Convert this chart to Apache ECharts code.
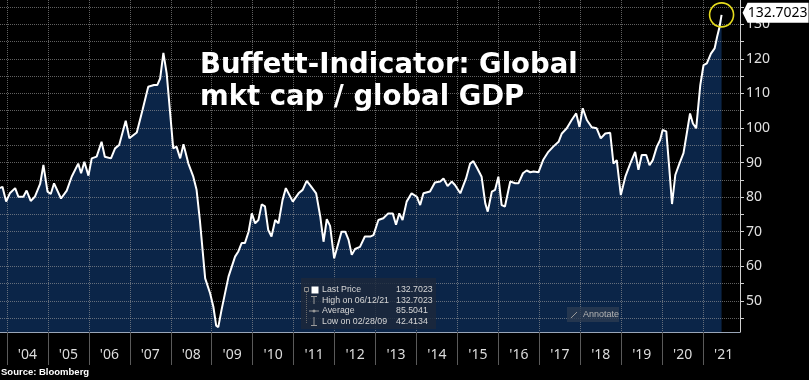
<!DOCTYPE html>
<html>
<head>
<meta charset="utf-8">
<script src="https://cdn.jsdelivr.net/npm/echarts@6/dist/echarts.min.js"></script>
<style>html,body{margin:0;padding:0;background:#000;}#c{width:809px;height:380px;}</style>
</head>
<body>
<div id="c"></div>
<script>
// Time in decimal years, values = global mkt cap / global GDP (%)
const dates = [
2003.83,2003.89,2003.98,2004.07,2004.20,2004.28,2004.40,2004.48,2004.58,2004.68,2004.81,2004.89,2004.99,
2005.07,2005.15,2005.32,2005.46,2005.58,2005.74,2005.81,2005.89,2005.99,
2006.07,2006.19,2006.31,2006.39,2006.54,2006.64,2006.74,2006.90,2006.99,
2007.17,2007.31,2007.45,2007.59,2007.67,2007.74,2007.82,2007.90,
2008.06,2008.14,2008.23,2008.31,2008.43,2008.55,2008.63,2008.71,2008.84,2008.96,
2009.04,2009.11,2009.16,2009.24,2009.41,2009.45,2009.57,2009.65,2009.73,2009.81,2009.90,2009.98,
2010.06,2010.14,2010.22,2010.30,2010.38,2010.46,2010.55,2010.63,2010.73,2010.81,2010.98,
2011.12,2011.22,2011.32,2011.42,2011.55,2011.65,2011.73,2011.81,2011.89,2011.99,
2012.07,2012.17,2012.26,2012.34,2012.42,2012.50,2012.62,2012.74,2012.87,2012.95,
2013.07,2013.19,2013.31,2013.42,2013.50,2013.58,2013.66,2013.76,2013.88,
2014.01,2014.09,2014.17,2014.33,2014.45,2014.58,2014.66,2014.76,2014.86,2014.94,
2015.07,2015.21,2015.31,2015.39,2015.49,2015.59,2015.68,2015.74,2015.84,2015.92,
2016.00,2016.08,2016.16,2016.29,2016.41,2016.49,2016.60,2016.69,2016.78,2016.86,2016.98,
2017.10,2017.22,2017.34,2017.47,2017.55,2017.67,2017.79,2017.90,2017.98,
2018.06,2018.16,2018.28,2018.40,2018.50,2018.61,2018.73,2018.81,2018.89,2018.99,
2019.10,2019.22,2019.34,2019.42,2019.50,2019.61,2019.69,2019.77,2019.87,2019.95,
2020.01,2020.10,2020.17,2020.24,2020.32,2020.42,2020.52,2020.60,2020.68,2020.75,2020.83,2020.93,
2021.01,2021.09,2021.19,2021.28,2021.34,2021.40,2021.45
];
const values = [
82.6,83.0,78.7,81.1,82.6,80.1,80.1,81.9,78.9,80.1,83.8,89.3,81.6,
80.9,84.0,79.6,81.9,85.9,89.7,86.9,90.2,86.2,
91.2,91.7,96.0,91.7,91.2,94.1,95.1,102.1,97.0,
98.7,105.2,111.9,112.4,112.4,114.3,121.7,115.8,
94.1,94.6,91.2,95.3,89.7,85.9,82.1,73.4,56.5,52.2,
48.3,42.8,42.41,47.4,57.0,57.5,62.8,64.3,66.7,66.7,70.0,75.3,
72.4,73.4,77.9,77.3,70.5,68.6,73.4,72.4,79.2,82.6,78.7,
81.1,82.1,84.7,83.2,81.1,74.4,67.1,73.6,71.7,62.3,
65.7,70.0,70.0,67.7,63.3,65.0,65.6,68.6,68.6,69.0,
73.4,73.9,75.3,75.3,72.0,75.3,73.4,78.7,81.1,
80.1,77.7,81.1,81.6,84.2,84.5,85.4,83.2,84.5,83.5,
81.1,85.4,89.7,90.4,88.2,85.9,78.2,75.8,81.6,82.1,
85.9,77.7,77.3,84.5,84.0,84.0,86.9,87.7,87.2,87.4,87.2,
90.9,93.1,94.6,96.0,98.4,99.9,102.3,104.2,100.3,
105.7,102.3,100.2,99.9,97.0,98.4,98.6,89.7,90.7,80.6,
85.9,89.7,93.1,87.9,92.2,92.2,89.2,90.7,94.6,96.5,
99.4,99.0,88.8,78.0,86.4,89.7,92.7,98.4,104.2,101.3,99.9,112.4,
118.2,118.7,121.5,123.0,126.3,129.2,132.7023
];
const yearTicks = [2004,2005,2006,2007,2008,2009,2010,2011,2012,2013,2014,2015,2016,2017,2018,2019,2020,2021];
const yearLabelPos = yearTicks.map(y => y + 0.5);
const yTicks = [45,50,55,60,65,70,75,80,85,90,95,100,105,110,115,120,125,130,135];
const yLabels = [50,60,70,80,90,100,110,120,130];
const legendRows = [
  ['Last Price', '132.7023'],
  ['High on 06/12/21', '132.7023'],
  ['Average', '85.5041'],
  ['Low on 02/28/09', '42.4134']
];
const titleText = 'Buffett-Indicator: Global\nmkt cap / global GDP';
const sourceText = 'Source: Bloomberg';

const data = dates.map((d, i) => [d, values[i]]);
const last = data[data.length - 1];

const gridLine = { show: true, lineStyle: { color: 'rgba(160,160,160,0.6)', type: 'dotted', width: 1 } };

const chart = echarts.init(document.getElementById('c'), null, { renderer: 'canvas' });
const lx = 301, ly = 278;
const rowY = [290, 300.5, 311, 321.5];
const legendGraphics = [
  { type: 'rect', shape: { x: lx, y: ly, width: 135, height: 51 }, style: { fill: 'rgba(28,40,58,0.82)' }, z: 100 },
  { type: 'rect', shape: { x: 304.5, y: 287.5, width: 4, height: 4 }, style: { fill: 'none', stroke: '#8a8a8a', lineWidth: 1 }, z: 101 },
  { type: 'line', shape: { x1: 306.5, y1: 292, x2: 306.5, y2: 324 }, style: { stroke: '#6a6a6a', lineWidth: 1, lineDash: [1, 1] }, z: 101 },
  { type: 'rect', shape: { x: 311.5, y: 286.5, width: 7, height: 7 }, style: { fill: '#ffffff' }, z: 101 },
  { type: 'line', shape: { x1: 311, y1: 296.5, x2: 317, y2: 296.5 }, style: { stroke: '#9a9a9a', lineWidth: 1 }, z: 101 },
  { type: 'line', shape: { x1: 314, y1: 296.5, x2: 314, y2: 304 }, style: { stroke: '#9a9a9a', lineWidth: 1 }, z: 101 },
  { type: 'line', shape: { x1: 309, y1: 311, x2: 319, y2: 311 }, style: { stroke: '#9a9a9a', lineWidth: 1 }, z: 101 },
  { type: 'circle', shape: { cx: 314, cy: 311, r: 1.5 }, style: { fill: '#9a9a9a' }, z: 101 },
  { type: 'line', shape: { x1: 314, y1: 317, x2: 314, y2: 325 }, style: { stroke: '#9a9a9a', lineWidth: 1 }, z: 101 },
  { type: 'line', shape: { x1: 311, y1: 325.5, x2: 317, y2: 325.5 }, style: { stroke: '#9a9a9a', lineWidth: 1 }, z: 101 }
];
legendRows.forEach((r, i) => {
  legendGraphics.push({ type: 'text', x: 322, y: rowY[i], style: { text: r[0], fill: '#d6d6d6', font: '8.8px "Liberation Sans"', verticalAlign: 'middle' }, z: 102 });
  legendGraphics.push({ type: 'text', x: 396, y: rowY[i], style: { text: r[1], fill: '#d6d6d6', font: '8.8px "Liberation Sans"', verticalAlign: 'middle' }, z: 102 });
});
legendGraphics.push(
  { type: 'rect', shape: { x: 567, y: 307, width: 52, height: 15 }, style: { fill: 'rgba(45,60,82,0.75)' }, z: 100 },
  { type: 'line', shape: { x1: 571, y1: 318, x2: 577, y2: 312 }, style: { stroke: '#9a9a9a', lineWidth: 1 }, z: 101 },
  { type: 'text', x: 583, y: 314.5, style: { text: 'Annotate', fill: '#b4b4b4', font: '9px "Liberation Sans"', verticalAlign: 'middle' }, z: 102 }
);

chart.setOption({
  backgroundColor: '#000000',
  animation: false,
  title: [
    { text: titleText, left: 200, top: 49.5, textStyle: { color: '#ffffff', fontFamily: 'DejaVu Sans', fontWeight: 'bold', fontSize: 27.5, lineHeight: 32 }, padding: 0, z: 50 },
    { text: sourceText, left: 1, top: 367, textStyle: { color: '#ffffff', fontFamily: 'Liberation Sans', fontWeight: 'bold', fontSize: 9.5, lineHeight: 11 }, padding: 0 }
  ],
  grid: { left: 0, right: 69, top: 0, bottom: 48, containLabel: false },
  xAxis: {
    type: 'value', min: 2003.83, max: 2021.90, z: 2,
    axisLine: { show: true, lineStyle: { color: '#9aa6b8', width: 1 } },
    axisTick: { show: true, customValues: yearTicks, length: 33, lineStyle: { color: '#5a5a5a' } },
    axisLabel: { show: true, customValues: yearLabelPos, formatter: v => "'" + String(Math.floor(v)).slice(2), color: '#dcdcdc', fontSize: 14, fontFamily: 'Noto Sans', margin: 16 },
    splitLine: gridLine
  },
  yAxis: {
    type: 'value', position: 'right', min: 41, max: 137, z: 2,
    axisLine: { show: true, lineStyle: { color: '#cfcfcf', width: 1 } },
    axisTick: { show: true, customValues: yTicks, length: 4, lineStyle: { color: '#cfcfcf' } },
    axisLabel: { show: true, customValues: yLabels, color: '#e0e0e0', fontSize: 14, fontFamily: 'Noto Sans', margin: 6 },
    splitLine: gridLine
  },
  graphic: legendGraphics,
  series: [
    { type: 'line', data: data, z: 1, showSymbol: false, silent: true,
      lineStyle: { width: 0, opacity: 0 }, areaStyle: { color: '#0b2548', opacity: 1 } },
    { type: 'line', data: data, z: 3, showSymbol: false,
      lineStyle: { color: '#ffffff', width: 2 },
      markPoint: {
        silent: true,
        data: [
          { coord: last, symbol: 'circle', symbolSize: 24, itemStyle: { color: 'rgba(0,0,0,0)', borderColor: '#e6dc1e', borderWidth: 1.6 }, label: { show: false } },
          { coord: last, symbol: 'path://M0,10 L5,0 L66,0 L66,20 L5,20 Z', symbolSize: [66, 20], symbolOffset: [54, -2], itemStyle: { color: '#ffffff' },
            label: { show: true, position: 'inside', offset: [2, 0], formatter: () => last[1].toFixed(4), color: '#000000', fontSize: 14, fontFamily: 'Noto Sans' } }
        ]
      }
    }
  ]
});
</script>
</body>
</html>
